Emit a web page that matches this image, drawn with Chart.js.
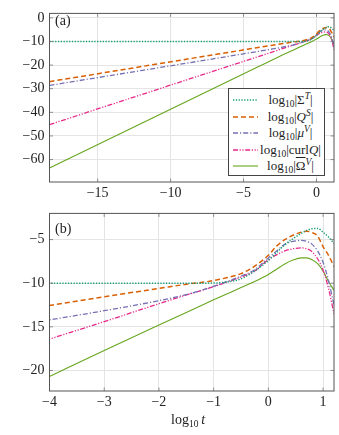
<!DOCTYPE html>
<html><head><meta charset="utf-8">
<script src="https://cdn.jsdelivr.net/npm/chart.js@4/dist/chart.umd.min.js"></script>
<style>
html,body{margin:0;padding:0;background:#fff;}
#wrap{position:relative;width:339px;height:435px;overflow:hidden;font-family:"Liberation Serif","DejaVu Serif",serif;color:#222;}
canvas{position:absolute;left:0;}
.lbl{position:absolute;font-size:14px;line-height:1;}
.m{font-style:italic;}
sub{font-size:9.5px;vertical-align:-3px;line-height:0;}
sup{font-size:9.5px;vertical-align:5px;line-height:0;}
#legend{position:absolute;left:227.5px;top:88px;width:97px;height:88px;border:1px solid #444;background:#fff;box-sizing:border-box;}
.row{position:absolute;left:0;width:96px;height:16px;}
.row svg{position:absolute;left:4px;top:4px;}
.row .t{position:absolute;left:30px;width:64px;text-align:center;top:0px;font-size:13px;white-space:nowrap;}
</style></head>
<body><div id="wrap">
<canvas id="ca" width="339" height="200" style="top:0;width:339px;height:200px"></canvas>
<canvas id="cb" width="339" height="235" style="top:200px;width:339px;height:235px"></canvas>
<div class="lbl" style="left:55px;top:14px;">(a)</div>
<div class="lbl" style="left:55px;top:222px;">(b)</div>
<div class="lbl" style="left:171px;top:413px;">log<sub>10</sub>&#8201;<span class="m">t</span></div>
<div id="legend"></div>
</div>
<script>
// ---- data ----
const logT = [-18.3, -4, -3, -2, -1.5, -1, -0.75, -0.5, -0.25, 0, 0.15, 0.3, 0.45, 0.6, 0.7, 0.8, 0.9, 1.0, 1.1, 1.2];
const sigmaT = [-10, -10, -10, -10, -10, -9.98, -9.85, -9.5, -8.6, -7.4, -6.5, -5.6, -4.9, -4.3, -3.95, -3.75, -3.72, -4.15, -4.7, -5.45];
const qS     = [-27.0, -12.55, -11.55, -10.6, -10.12, -9.7, -9.35, -8.9, -8.05, -6.8, -5.75, -5.0, -4.5, -4.15, -4.05, -4.2, -4.6, -5.8, -6.8, -8.1];
const muV    = [-28.6, -14.2, -13.15, -12.0, -11.3, -10.35, -9.8, -9.2, -8.45, -7.1, -6.3, -5.55, -5.2, -5.1, -5.2, -5.55, -6.3, -7.6, -9.7, -12.5];
const curlQ  = [-45.2, -16.4, -14.4, -12.35, -11.35, -10.4, -9.85, -9.3, -8.6, -7.3, -6.75, -6.3, -6.05, -5.95, -6.05, -6.4, -7.2, -8.5, -10.6, -13.5];
const omegaV = [-63.6, -20.7, -17.7, -14.8, -13.35, -11.9, -11.2, -10.5, -9.8, -9.0, -8.4, -7.8, -7.35, -7.1, -7.1, -7.3, -7.75, -8.6, -9.8, -10.8];

const xTicksA = [-15, -10, -5, 0];
const yTicksA = [0, -10, -20, -30, -40, -50, -60];
const xTicksB = [-4, -3, -2, -1, 0, 1];
const yTicksB = [-5, -10, -15, -20];

const seriesNames = ['log10|Σ^T|', 'log10|Q^S|', 'log10|μ^V|', 'log10|curl Q|', 'log10|Ω̄^V|'];
const legendHTML = [
 'log<sub>10</sub>|Σ<sup class="m">T</sup>|',
 'log<sub>10</sub>|<span class="m">Q</span><sup class="m">S</sup>|',
 'log<sub>10</sub>|<span class="m">μ</span><sup class="m">V</sup>|',
 'log<sub>10</sub>|curl<span class="m">Q</span>|',
 'log<sub>10</sub>|<span style="text-decoration:overline">Ω</span><sup class="m">V</sup>|'
];
const seriesValues = [sigmaT, qS, muV, curlQ, omegaV];
const colors = ['#1b9e77', '#d95f02', '#7570b3', '#e7298a', '#66a61e'];
const dashes = [[1.3, 1.5], [5, 3], [5, 2, 1.2, 2], [5, 1.6, 1.2, 1.6, 1.2, 1.6], []];
const widths = [1.5, 1.5, 1.3, 1.3, 1.1];

function datasets() {
  return seriesValues.map((vals, i) => ({
    label: seriesNames[i],
    data: logT.map((x, j) => ({x: x, y: vals[j]})),
    borderColor: colors[i],
    borderDash: dashes[i],
    borderWidth: widths[i],
    pointRadius: 0,
    fill: false,
    cubicInterpolationMode: 'monotone'
  }));
}

const fmt = v => (v < 0 ? '\u2212' + Math.abs(v) : String(v));

const frame = {
  id: 'frame',
  afterDatasetsDraw(chart) {
    const a = chart.chartArea, ctx = chart.ctx;
    ctx.save();
    ctx.strokeStyle = '#777';
    ctx.lineWidth = 0.8;
    const xs = chart.scales.x, ys = chart.scales.y;
    xs.ticks.forEach(t => {
      const p = xs.getPixelForValue(t.value);
      ctx.beginPath(); ctx.moveTo(p, a.bottom); ctx.lineTo(p, a.bottom - 3.5);
      ctx.moveTo(p, a.top); ctx.lineTo(p, a.top + 3.5); ctx.stroke();
    });
    ys.ticks.forEach(t => {
      const p = ys.getPixelForValue(t.value);
      ctx.beginPath(); ctx.moveTo(a.left, p); ctx.lineTo(a.left + 3.5, p);
      ctx.moveTo(a.right, p); ctx.lineTo(a.right - 3.5, p); ctx.stroke();
    });
    ctx.strokeStyle = '#555';
    ctx.lineWidth = 1;
    ctx.strokeRect(a.left, a.top, a.right - a.left, a.bottom - a.top);
    ctx.restore();
  }
};

function makeChart(id, xr, yr, xt, yt, padTop, xH) {
  return new Chart(document.getElementById(id), {
    type: 'line',
    data: {datasets: datasets()},
    options: {
      responsive: false, animation: false, devicePixelRatio: 1,
      layout: {padding: {top: padTop, right: 5, left: 0, bottom: 0}},
      plugins: {legend: {display: false}, tooltip: {enabled: false}},
      scales: {
        x: {
          type: 'linear', min: xr[0], max: xr[1],
          afterBuildTicks: s => { s.ticks = xt.map(v => ({value: v})); },
          afterFit: s => { s.height = xH; },
          grid: {color: '#e4e4e4', drawTicks: false, lineWidth: 1},
          border: {display: false},
          ticks: {padding: 3, maxRotation: 0, autoSkip: false, color: '#222',
                  font: {family: 'Liberation Serif', size: 14}, callback: fmt}
        },
        y: {
          type: 'linear', min: yr[0], max: yr[1],
          afterBuildTicks: s => { s.ticks = yt.map(v => ({value: v})); },
          afterFit: s => { s.width = 49.5; },
          grid: {color: '#e4e4e4', drawTicks: false, lineWidth: 1},
          border: {display: false},
          ticks: {padding: 5, autoSkip: false, color: '#222',
                  font: {family: 'Liberation Serif', size: 14}, callback: fmt}
        }
      }
    },
    plugins: [frame]
  });
}

makeChart('ca', [-18.3, 1.2], [-69.5, 1.9], xTicksA, yTicksA, 4, 18);
makeChart('cb', [-4, 1.2], [-22.35, -2], xTicksB, yTicksB, 12.7, 44);

// legend overlay
const lg = document.getElementById('legend');
legendHTML.forEach((h, i) => {
  const r = document.createElement('div');
  r.className = 'row';
  r.style.top = (3 + i * 16.6) + 'px';
  const da = dashes[i].length ? dashes[i].join(' ') : 'none';
  r.innerHTML = '<svg width="26" height="8"><line x1="0" y1="4" x2="25" y2="4" stroke="' + colors[i] +
    '" stroke-width="' + widths[i] + '" stroke-dasharray="' + da + '"/></svg><span class="t">' + h + '</span>';
  lg.appendChild(r);
});
</script>
</body></html>
